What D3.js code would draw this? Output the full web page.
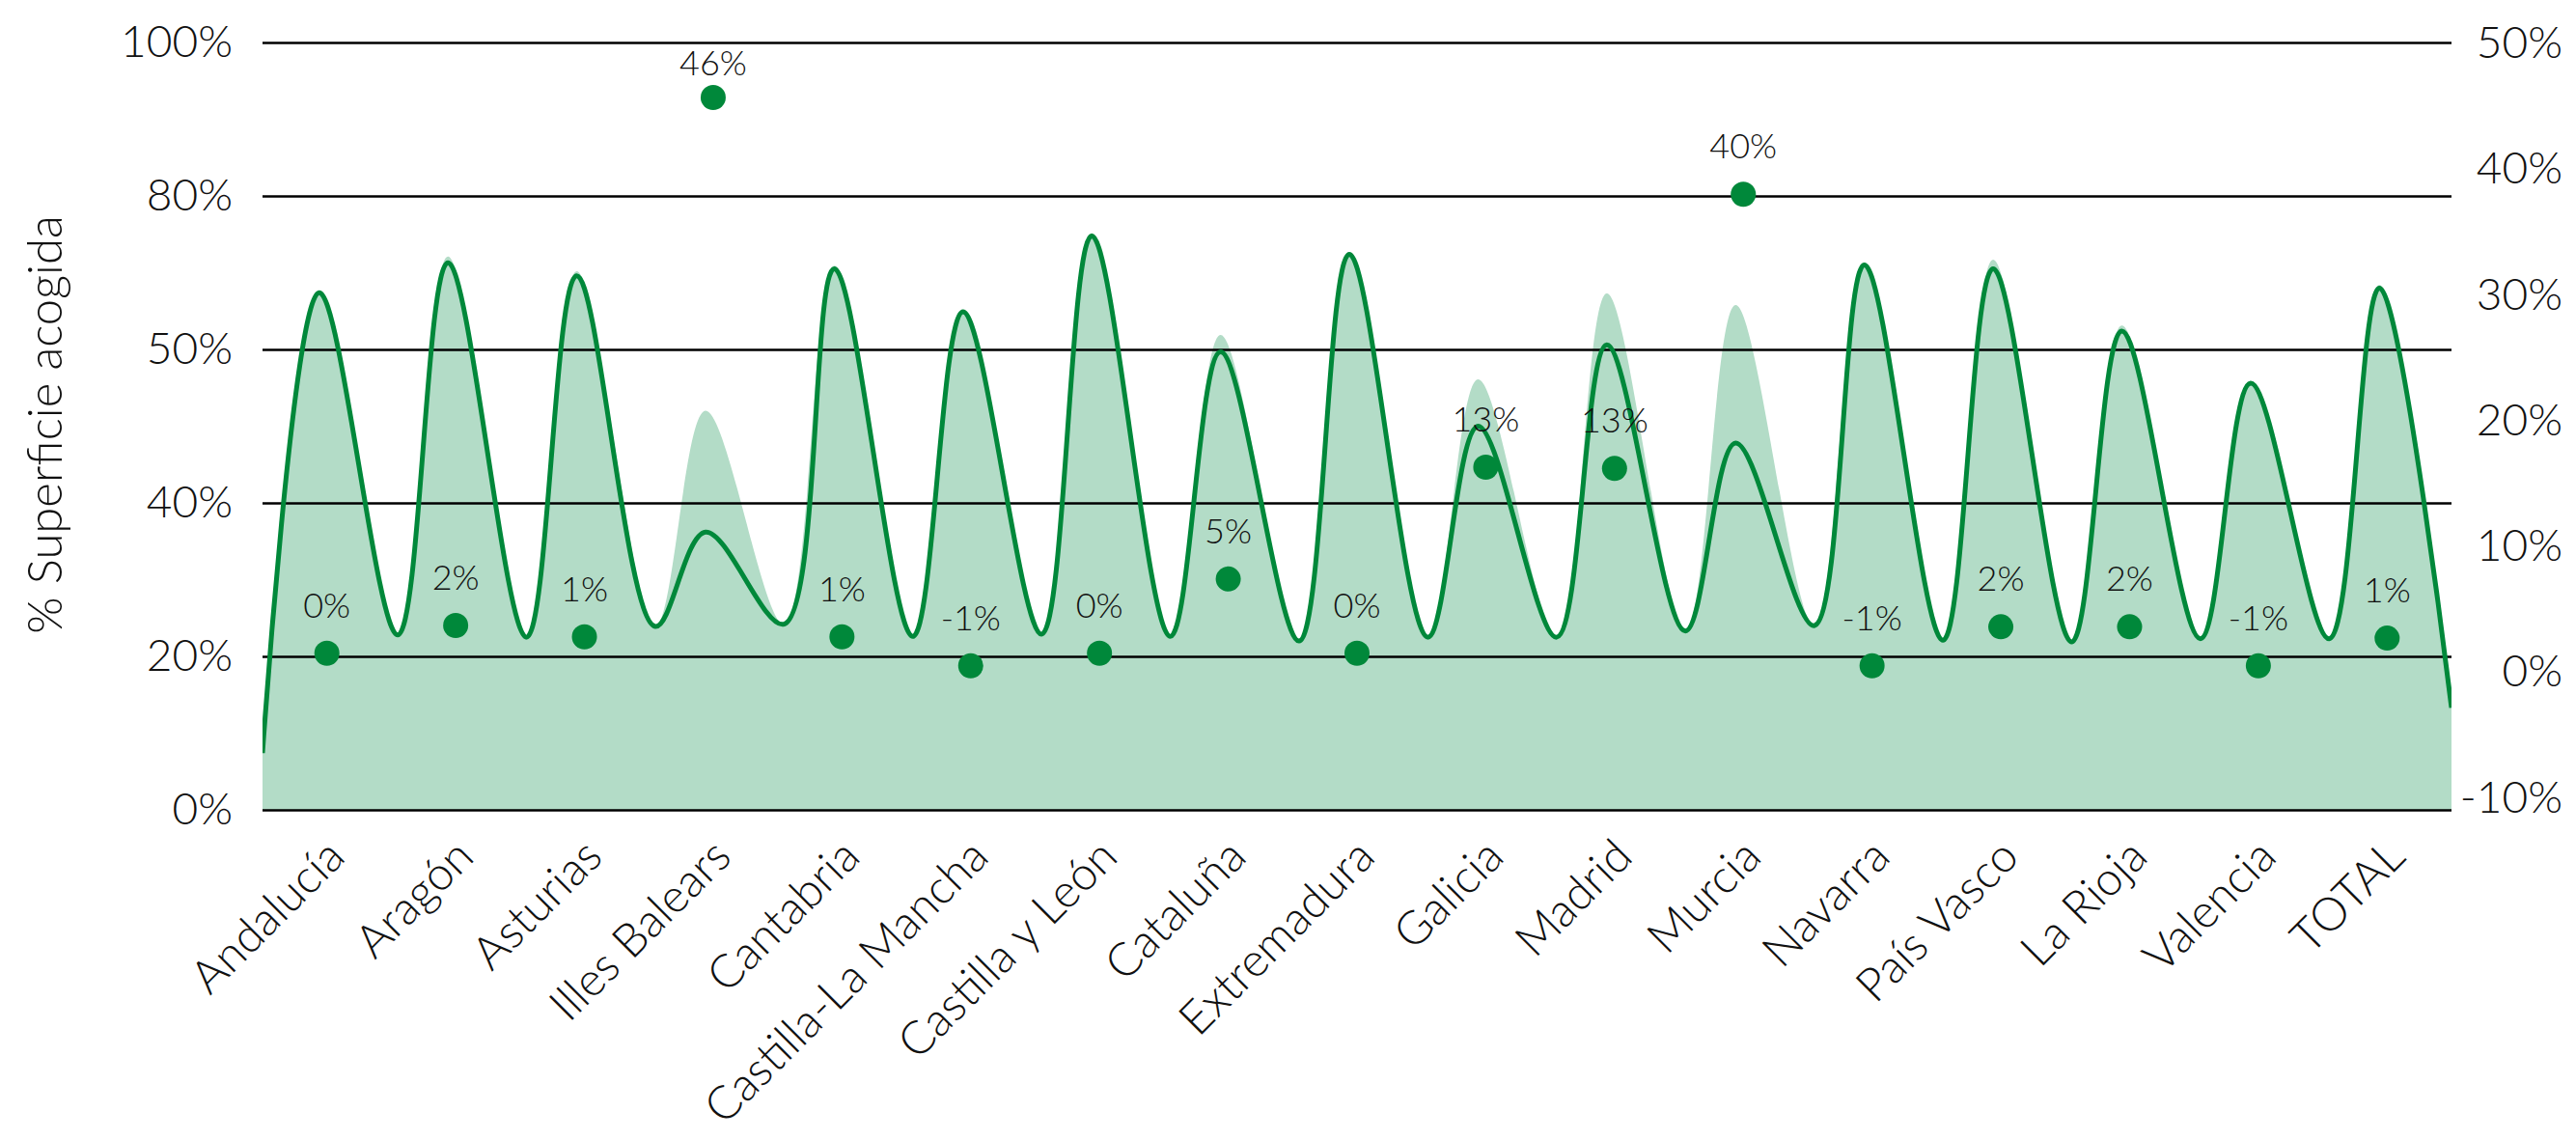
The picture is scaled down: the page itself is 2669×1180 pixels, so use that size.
<!DOCTYPE html>
<html lang="es">
<head>
  <meta charset="UTF-8">
  <title>Superficie acogida por comunidad autónoma</title>
  <script src="https://cdnjs.cloudflare.com/ajax/libs/d3/7.8.5/d3.min.js"></script>
  <style>
    body {
      margin: 0;
      background: #fff;
      font-family: Lato, "Open Sans", sans-serif;
    }
    .grid line {
      stroke: #000;
      stroke-width: 2.6px;
    }
    .axis text {
      font-family: Lato, sans-serif;
      font-size: 46px;
      font-weight: 300;
      fill: #111;
    }
    .cat text {
      font-family: Lato, sans-serif;
      font-size: 48px;
      font-weight: 300;
      fill: #111;
    }
    .dot-label {
      font-family: Lato, sans-serif;
      font-size: 36px;
      font-weight: 300;
      fill: #111;
    }
  </style>
</head>
<body>

  <svg width="2669" height="1180"></svg>

  <script>
    const width = 2669, height = 1180;
    const svg = d3.select("svg");

    // regions on the x axis
    const regions = ["Andalucía", "Aragón", "Asturias", "Illes Balears", "Cantabria",
      "Castilla-La Mancha", "Castilla y León", "Cataluña", "Extremadura", "Galicia",
      "Madrid", "Murcia", "Navarra", "País Vasco", "La Rioja", "Valencia", "TOTAL"];

    // % superficie acogida, light area series (left axis)
    const areaPeak = [67.4, 72.1, 70.2, 52.0, 70.9, 65.1, 74.9, 61.9, 72.5,
      56.1, 67.3, 65.8, 71.1, 71.7, 63.1, 55.8, 68.4];
    // % superficie acogida, dark line series (left axis)
    const linePeak = [67.4, 71.3, 69.6, 36.2, 70.5, 64.9, 74.8, 59.7, 72.4,
      50.0, 60.6, 47.8, 71.0, 70.5, 62.4, 55.6, 68.0];
    // low points between regions, shared by both series
    const troughs = [22.8, 22.5, 23.9, 24.2, 22.6, 22.9, 22.6, 22.0,
      22.5, 22.5, 23.3, 24.0, 22.1, 21.9, 22.3, 22.3];
    // value at the left and right edges of the plot
    const edges = [7.4, 13.3];

    // variation (right axis): position of each dot and its printed label
    const growth = [1.5, 3.7, 2.8, 45.7, 2.8, 0.5, 1.5, 7.4, 1.5,
      16.3, 16.2, 38.0, 0.5, 3.6, 3.6, 0.5, 2.7];
    const growthLabels = ["0%", "2%", "1%", "46%", "1%", "-1%", "0%", "5%", "0%",
      "13%", "13%", "40%", "-1%", "2%", "2%", "-1%", "1%"];

    // axis ticks
    const leftTicks = [0, 20, 40, 60, 80, 100];
    const leftTickLabels = ["0%", "20%", "40%", "50%", "80%", "100%"];
    const rightTicks = [-10, 0, 10, 20, 30, 40, 50];

    const plot = { left: 272, right: 2540, top: 44, bottom: 839 };
    const plotW = plot.right - plot.left;

    const band = d3.scaleBand().domain(regions).range([plot.left, plot.right]);
    const xPos = d3.scaleLinear().domain([0, regions.length]).range([plot.left, plot.right]);
    const yLeft = d3.scaleLinear().domain([0, 100]).range([plot.bottom, plot.top]);
    const yRight = d3.scaleLinear().domain([-10, 50]).range([826.5, 45]);

    // peak sits a bit before the band centre, low point just after the band end
    const PEAK_POS = 0.44, TROUGH_POS = 1.05;

    function buildSeries(peaks) {
      const pts = [{ x: 0, v: edges[0] }];
      peaks.forEach((p, i) => {
        pts.push({ x: i + PEAK_POS, v: p });
        if (i < troughs.length) pts.push({ x: i + TROUGH_POS, v: troughs[i] });
      });
      pts.push({ x: regions.length, v: edges[1] });
      return pts;
    }

    svg.append("clipPath").attr("id", "plot-clip")
      .append("rect")
      .attr("x", plot.left).attr("y", plot.top - 10)
      .attr("width", plotW).attr("height", plot.bottom - plot.top + 10);

    const curve = d3.curveCatmullRom.alpha(0.5);

    // light area
    const area = d3.area()
      .x(d => xPos(d.x))
      .y0(yLeft(0))
      .y1(d => yLeft(d.v))
      .curve(curve);

    svg.append("path")
      .datum(buildSeries(areaPeak))
      .attr("clip-path", "url(#plot-clip)")
      .attr("fill", "#b3dcc7")
      .attr("d", area);

    // gridlines
    svg.append("g")
      .attr("class", "grid")
      .attr("transform", `translate(${plot.left},0)`)
      .call(d3.axisLeft(yLeft).tickValues(leftTicks).tickSize(-plotW).tickFormat(""))
      .call(g => g.select(".domain").remove());

    // dark line
    const line = d3.line()
      .x(d => xPos(d.x))
      .y(d => yLeft(d.v))
      .curve(curve);

    svg.append("path")
      .datum(buildSeries(linePeak))
      .attr("clip-path", "url(#plot-clip)")
      .attr("fill", "none")
      .attr("stroke", "#00883a")
      .attr("stroke-width", 5)
      .attr("d", line);

    // left axis
    svg.append("g")
      .attr("class", "axis")
      .attr("transform", `translate(${plot.left},0)`)
      .call(d3.axisLeft(yLeft).tickValues(leftTicks)
        .tickFormat((d, i) => leftTickLabels[i]).tickSize(0).tickPadding(31))
      .call(g => g.attr("font-family", null).attr("font-size", null))
      .call(g => g.select(".domain").remove());

    // right axis
    svg.append("g")
      .attr("class", "axis")
      .attr("transform", `translate(${plot.right},0)`)
      .call(d3.axisRight(yRight).tickValues(rightTicks)
        .tickFormat(d => d + "%").tickSize(0))
      .call(g => g.attr("font-family", null).attr("font-size", null))
      .call(g => g.select(".domain").remove())
      .call(g => g.selectAll("text")
        .attr("text-anchor", "end")
        .attr("x", 115));

    // region labels
    svg.append("g")
      .attr("class", "cat")
      .attr("transform", `translate(0,${plot.bottom})`)
      .call(d3.axisBottom(band).tickSize(0))
      .call(g => g.attr("font-family", null).attr("font-size", null))
      .call(g => g.select(".domain").remove())
      .call(g => g.selectAll("text")
        .attr("y", null)
        .attr("dy", null)
        .attr("text-anchor", "end")
        .attr("transform", "translate(21,51) rotate(-45)"));

    // y title
    svg.append("text")
      .attr("transform", "translate(64,440) rotate(-90)")
      .attr("text-anchor", "middle")
      .attr("font-family", "Lato, sans-serif")
      .attr("font-size", 49)
      .attr("font-weight", 300)
      .attr("fill", "#111")
      .text("% Superficie acogida");

    // variation dots + labels
    const cx = (d, i) => band(regions[i]) + band.bandwidth() / 2;

    svg.append("g")
      .selectAll("circle")
      .data(growth)
      .enter().append("circle")
      .attr("cx", cx)
      .attr("cy", d => yRight(d))
      .attr("r", 13)
      .attr("fill", "#00883a");

    svg.append("g")
      .selectAll("text")
      .data(growth)
      .enter().append("text")
      .attr("class", "dot-label")
      .attr("x", cx)
      .attr("y", d => Math.max(yRight(d) - 37, plot.top + 34))
      .attr("text-anchor", "middle")
      .text((d, i) => growthLabels[i]);
  </script>

</body>
</html>
